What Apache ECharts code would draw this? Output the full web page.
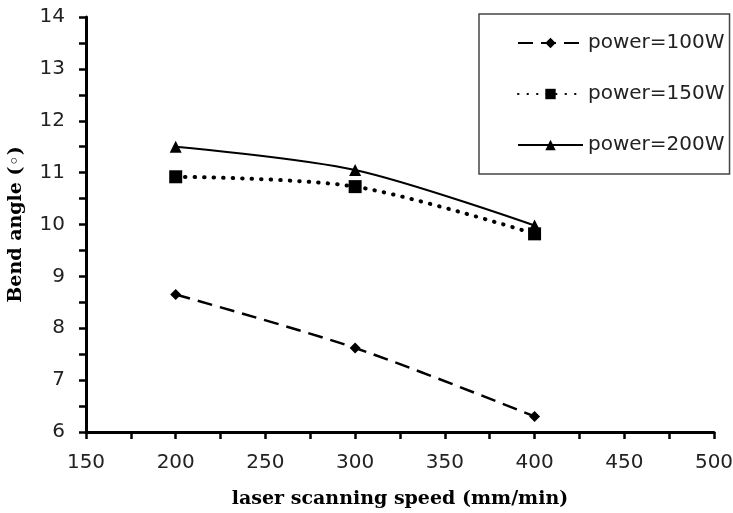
<!DOCTYPE html>
<html>
<head>
<meta charset="utf-8">
<script src="https://cdn.jsdelivr.net/npm/echarts@6/dist/echarts.min.js"></script>
<style>
  html, body { margin: 0; padding: 0; background: #fff; }
  #chart { width: 733px; height: 513px; }
</style>
</head>
<body>
<div id="chart"></div>
<script>
// Scanning speeds (mm/min)
const speeds = [200, 300, 400];
// Bend angle (degrees) for each laser power
const power100 = [8.65, 7.62, 6.30];
const power150 = [10.92, 10.73, 9.82];
const power200 = [11.50, 11.05, 9.98];
const seriesNames = ['power=100W', 'power=150W', 'power=200W'];

const pairs = (ys) => speeds.map((x, i) => [x, ys[i]]);

const chart = echarts.init(document.getElementById('chart'));
const labelFont = '"DejaVu Sans", sans-serif';
const titleFont = '"DejaVu Serif", serif';

const axisCommon = {
  axisLine: { show: true, onZero: false, lineStyle: { color: '#000', width: 3 } },
  axisTick: { show: true, length: 7, lineStyle: { color: '#000', width: 2.5 } },
  minorTick: { show: true, splitNumber: 2, length: 7, lineStyle: { color: '#000', width: 2.5 } },
  splitLine: { show: false },
  axisLabel: { fontFamily: labelFont, fontSize: 20, color: '#222', margin: 21 }
};

chart.setOption({
  animation: false,
  backgroundColor: '#fff',
  grid: { left: 86, right: 19, top: 17, bottom: 81, containLabel: false, outerBoundsMode: 'none' },
  xAxis: Object.assign({
    type: 'value', min: 150, max: 500, interval: 50,
    name: 'laser scanning speed (mm/min)',
    nameLocation: 'middle', nameGap: 58,
    nameTextStyle: { fontFamily: titleFont, fontWeight: 'bold', fontSize: 19, color: '#000' }
  }, axisCommon),
  yAxis: Object.assign({
    type: 'value', min: 6, max: 14, interval: 1,
    name: 'Bend angle (◦)',
    nameLocation: 'middle', nameGap: 60, nameRotate: 90,
    nameTextStyle: { fontFamily: titleFont, fontWeight: 'bold', fontSize: 19, color: '#000' }
  }, axisCommon),
  legend: {
    orient: 'vertical',
    left: 479, top: 14,
    padding: [18, 5, 18, 38],
    itemGap: 29,
    itemWidth: 65, itemHeight: 13,
    borderColor: '#444', borderWidth: 1.5, borderRadius: 0,
    textStyle: { fontFamily: labelFont, fontSize: 20, lineHeight: 22, color: '#222' },
    data: seriesNames
  },
  series: [
    {
      name: seriesNames[0], type: 'line', data: pairs(power100),
      smooth: 0.3, symbol: 'diamond', symbolSize: 11,
      itemStyle: { color: '#000' },
      lineStyle: { color: '#000', width: 2.5, type: [15, 8] }
    },
    {
      name: seriesNames[1], type: 'line', data: pairs(power150),
      smooth: 0.3, symbol: 'rect', symbolSize: 13,
      itemStyle: { color: '#000' },
      lineStyle: { color: '#000', width: 4, type: [0.5, 9], cap: 'round' }
    },
    {
      name: seriesNames[2], type: 'line', data: pairs(power200),
      smooth: 0.3, symbol: 'triangle', symbolSize: 12,
      itemStyle: { color: '#000' },
      lineStyle: { color: '#000', width: 2 }
    }
  ]
});
</script>
</body>
</html>
